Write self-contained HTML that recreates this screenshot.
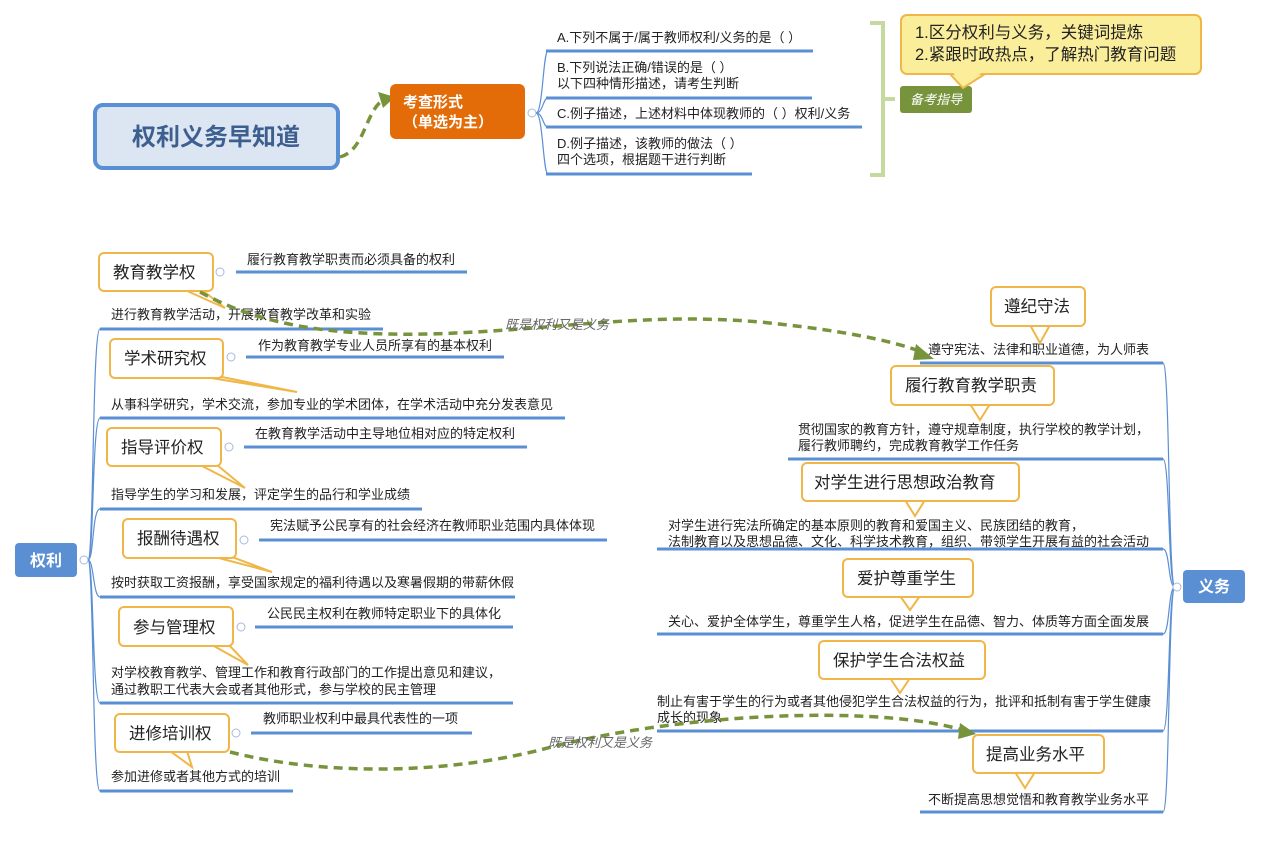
<!DOCTYPE html>
<html><head><meta charset="utf-8"><style>
html,body{margin:0;padding:0;background:#fff;}
svg{display:block;font-family:"Liberation Sans","Noto Sans CJK SC",sans-serif;}
.t{font-size:13px;fill:#222;}
.h{font-size:16.5px;fill:#222;}
.u{stroke:#5b8fd4;stroke-width:3;fill:none;}
.b{stroke:#5b8fd4;stroke-width:1.2;fill:none;}
.co{fill:#fff;stroke:#f0b648;stroke-width:2;}
.c{fill:#fff;stroke:#aab8de;stroke-width:1;}
.d{stroke:#77933c;stroke-width:3.5;fill:none;stroke-dasharray:9,6;}
.lab{font-size:13px;fill:#666;font-style:italic;}
</style></head><body>
<svg width="1262" height="850" viewBox="0 0 1262 850" xmlns="http://www.w3.org/2000/svg">
<rect x="95" y="105" width="243" height="63" rx="8" fill="#dce6f2" stroke="#5b8fd4" stroke-width="4"/>
<text x="216" y="145" text-anchor="middle" font-size="24" font-weight="bold" fill="#3d5f8f">权利义务早知道</text>
<path class="d" d="M340 157 C 365 150, 365 112, 383 100" />
<polygon points="378,92 395,97 383,108" fill="#77933c"/>
<rect x="390" y="84" width="135" height="55" rx="6" fill="#e36c09"/>
<text x="403" y="107" font-size="15" font-weight="bold" fill="#fff">考查形式</text>
<text x="403" y="127" font-size="15" font-weight="bold" fill="#fff">（单选为主）</text>
<circle class="c" cx="532" cy="113" r="4"/>
<path class="b" d="M536 113 C 543 113, 543 51, 548 51 M536 113 C 543 113, 543 98, 548 98 M536 113 C 543 113, 543 127, 548 127 M536 113 C 543 113, 543 174, 548 174"/>
<line class="u" x1="546" y1="51" x2="813" y2="51"/>
<line class="u" x1="546" y1="98" x2="812" y2="98"/>
<line class="u" x1="546" y1="127" x2="862" y2="127"/>
<line class="u" x1="546" y1="174" x2="752" y2="174"/>
<text class="t" x="557" y="42">A.下列不属于/属于教师权利/义务的是（ ）</text>
<text class="t" x="557" y="72">B.下列说法正确/错误的是（ ）</text>
<text class="t" x="557" y="88">以下四种情形描述，请考生判断</text>
<text class="t" x="557" y="118">C.例子描述，上述材料中体现教师的（ ）权利/义务</text>
<text class="t" x="557" y="148">D.例子描述，该教师的做法（ ）</text>
<text class="t" x="557" y="164">四个选项，根据题干进行判断</text>
<path d="M870 23 H883 V175 H870 M883 99 H895" stroke="#c5d9a0" stroke-width="4" fill="none"/>
<rect x="900" y="86" width="72" height="27" rx="3" fill="#77933c"/>
<text x="910" y="104" font-size="13" font-style="italic" fill="#fff">备考指导</text>
<polygon points="950,74 985,74 963,88" fill="#fbee9a" stroke="#f0b648" stroke-width="2"/>
<rect x="901" y="15" width="300" height="59" rx="6" fill="#fbee9a" stroke="#f0b648" stroke-width="2"/>
<polygon points="952,72 983,72 965,84" fill="#fbee9a"/>
<text x="915" y="38" font-size="16.5" fill="#222">1.区分权利与义务，关键词提炼</text>
<text x="915" y="60" font-size="16.5" fill="#222">2.紧跟时政热点，了解热门教育问题</text>

<rect x="15" y="543" width="62" height="34" rx="4" fill="#5b8fd4"/>
<text x="46" y="566" text-anchor="middle" font-size="16" font-weight="bold" fill="#fff">权利</text>
<circle class="c" cx="84" cy="560" r="4"/>
<path class="b" d="M88 560 C 94 560, 92 329, 100 329 M88 560 C 94 560, 92 418, 100 418 M88 560 C 94 560, 92 509, 100 509 M88 560 C 94 560, 93 597, 100 597 M88 560 C 94 560, 92 703, 100 703 M88 560 C 94 560, 92 791, 100 791"/>
<line class="u" x1="100" y1="329" x2="383" y2="329"/>
<line class="u" x1="100" y1="418" x2="565" y2="418"/>
<line class="u" x1="100" y1="509" x2="422" y2="509"/>
<line class="u" x1="100" y1="597" x2="515" y2="597"/>
<line class="u" x1="100" y1="703" x2="513" y2="703"/>
<line class="u" x1="100" y1="791" x2="293" y2="791"/>
<text class="t" x="111" y="319">进行教育教学活动，开展教育教学改革和实验</text>
<text class="t" x="111" y="409">从事科学研究，学术交流，参加专业的学术团体，在学术活动中充分发表意见</text>
<text class="t" x="111" y="499">指导学生的学习和发展，评定学生的品行和学业成绩</text>
<text class="t" x="111" y="587">按时获取工资报酬，享受国家规定的福利待遇以及寒暑假期的带薪休假</text>
<text class="t" x="111" y="677">对学校教育教学、管理工作和教育行政部门的工作提出意见和建议，</text>
<text class="t" x="111" y="694">通过教职工代表大会或者其他形式，参与学校的民主管理</text>
<text class="t" x="111" y="781">参加进修或者其他方式的培训</text>
<line class="u" x1="236" y1="272" x2="467" y2="272"/>
<line class="u" x1="246" y1="357" x2="504" y2="357"/>
<line class="u" x1="244" y1="447" x2="527" y2="447"/>
<line class="u" x1="259" y1="540" x2="607" y2="540"/>
<line class="u" x1="255" y1="627" x2="513" y2="627"/>
<line class="u" x1="251" y1="733" x2="472" y2="733"/>
<text class="t" x="247" y="264">履行教育教学职责而必须具备的权利</text>
<text class="t" x="258" y="350">作为教育教学专业人员所享有的基本权利</text>
<text class="t" x="255" y="438">在教育教学活动中主导地位相对应的特定权利</text>
<text class="t" x="270" y="530">宪法赋予公民享有的社会经济在教师职业范围内具体体现</text>
<text class="t" x="267" y="618">公民民主权利在教师特定职业下的具体化</text>
<text class="t" x="263" y="723">教师职业权利中最具代表性的一项</text>
<polygon class="co" points="185,290 202,290 225,308"/>
<rect class="co" x="99" y="253" width="114" height="38" rx="5"/>
<polygon class="co" points="205,377 222,377 297,392"/>
<rect class="co" x="110" y="339" width="113" height="39" rx="5"/>
<polygon class="co" points="200,465 217,465 245,488"/>
<rect class="co" x="107" y="428" width="114" height="38" rx="5"/>
<polygon class="co" points="215,557 232,557 272,572"/>
<rect class="co" x="123" y="519" width="113" height="39" rx="5"/>
<polygon class="co" points="212,645 229,645 248,665"/>
<rect class="co" x="119" y="607" width="114" height="39" rx="5"/>
<polygon class="co" points="170,751 187,751 192,767"/>
<rect class="co" x="115" y="714" width="114" height="38" rx="5"/>
<g class="h">
<text x="113" y="278">教育教学权</text>
<text x="124" y="364">学术研究权</text>
<text x="121" y="453">指导评价权</text>
<text x="137" y="544">报酬待遇权</text>
<text x="133" y="633">参与管理权</text>
<text x="129" y="739">进修培训权</text>
</g>
<circle class="c" cx="220" cy="272" r="4"/>
<circle class="c" cx="231" cy="357" r="4"/>
<circle class="c" cx="229" cy="447" r="4"/>
<circle class="c" cx="244" cy="540" r="4"/>
<circle class="c" cx="241" cy="627" r="4"/>
<circle class="c" cx="236" cy="733" r="4"/>

<path class="b" d="M1163 363 C 1170 363, 1168 587, 1175 587 M1163 459 C 1170 459, 1168 587, 1175 587 M1163 549 C 1170 549, 1168 587, 1175 587 M1163 634 C 1170 634, 1168 587, 1175 587 M1163 731 C 1170 731, 1168 587, 1175 587 M1163 812 C 1170 812, 1168 587, 1175 587"/>
<line class="u" x1="920" y1="363" x2="1163" y2="363"/>
<line class="u" x1="788" y1="459" x2="1163" y2="459"/>
<line class="u" x1="657" y1="549" x2="1163" y2="549"/>
<line class="u" x1="657" y1="634" x2="1163" y2="634"/>
<line class="u" x1="657" y1="731" x2="1163" y2="731"/>
<line class="u" x1="920" y1="812" x2="1163" y2="812"/>
<circle class="c" cx="1177" cy="587" r="4"/>
<rect x="1183" y="570" width="62" height="33" rx="4" fill="#5b8fd4"/>
<text x="1214" y="592" text-anchor="middle" font-size="16" font-weight="bold" fill="#fff">义务</text>
<text class="t" x="928" y="354">遵守宪法、法律和职业道德，为人师表</text>
<text class="t" x="798" y="434">贯彻国家的教育方针，遵守规章制度，执行学校的教学计划，</text>
<text class="t" x="798" y="450">履行教师聘约，完成教育教学工作任务</text>
<text class="t" x="668" y="530">对学生进行宪法所确定的基本原则的教育和爱国主义、民族团结的教育，</text>
<text class="t" x="668" y="546">法制教育以及思想品德、文化、科学技术教育，组织、带领学生开展有益的社会活动</text>
<text class="t" x="668" y="626">关心、爱护全体学生，尊重学生人格，促进学生在品德、智力、体质等方面全面发展</text>
<text class="t" x="657" y="706">制止有害于学生的行为或者其他侵犯学生合法权益的行为，批评和抵制有害于学生健康</text>
<text class="t" x="657" y="722">成长的现象</text>
<text class="t" x="928" y="804">不断提高思想觉悟和教育教学业务水平</text>
<polygon class="co" points="1030,325 1050,325 1040,343"/>
<rect class="co" x="991" y="287" width="94" height="39" rx="5"/>
<polygon class="co" points="970,404 990,404 980,420"/>
<rect class="co" x="891" y="366" width="163" height="39" rx="5"/>
<polygon class="co" points="905,500 925,500 915,516"/>
<rect class="co" x="802" y="463" width="217" height="38" rx="5"/>
<polygon class="co" points="900,596 920,596 910,610"/>
<rect class="co" x="843" y="559" width="130" height="38" rx="5"/>
<polygon class="co" points="890,678 910,678 900,693"/>
<rect class="co" x="819" y="641" width="166" height="38" rx="5"/>
<polygon class="co" points="1015,772 1035,772 1025,788"/>
<rect class="co" x="973" y="735" width="131" height="38" rx="5"/>
<g class="h">
<text x="1004" y="312">遵纪守法</text>
<text x="905" y="391">履行教育教学职责</text>
<text x="814" y="488">对学生进行思想政治教育</text>
<text x="857" y="584">爱护尊重学生</text>
<text x="833" y="666">保护学生合法权益</text>
<text x="986" y="760">提高业务水平</text>
</g>

<path class="d" d="M200 292 C 260 325, 330 336, 430 334 C 560 330, 640 312, 760 322 C 840 330, 890 340, 922 352"/>
<polygon points="916,344 934,359 913,360" fill="#77933c"/>
<text class="lab" x="505" y="329">既是权利又是义务</text>
<path class="d" d="M230 752 C 320 775, 440 775, 540 750 C 680 712, 880 705, 962 730"/>
<polygon points="960,723 976,734 958,739" fill="#77933c"/>
<text class="lab" x="548" y="747">既是权利又是义务</text>
</svg>
</body></html>
